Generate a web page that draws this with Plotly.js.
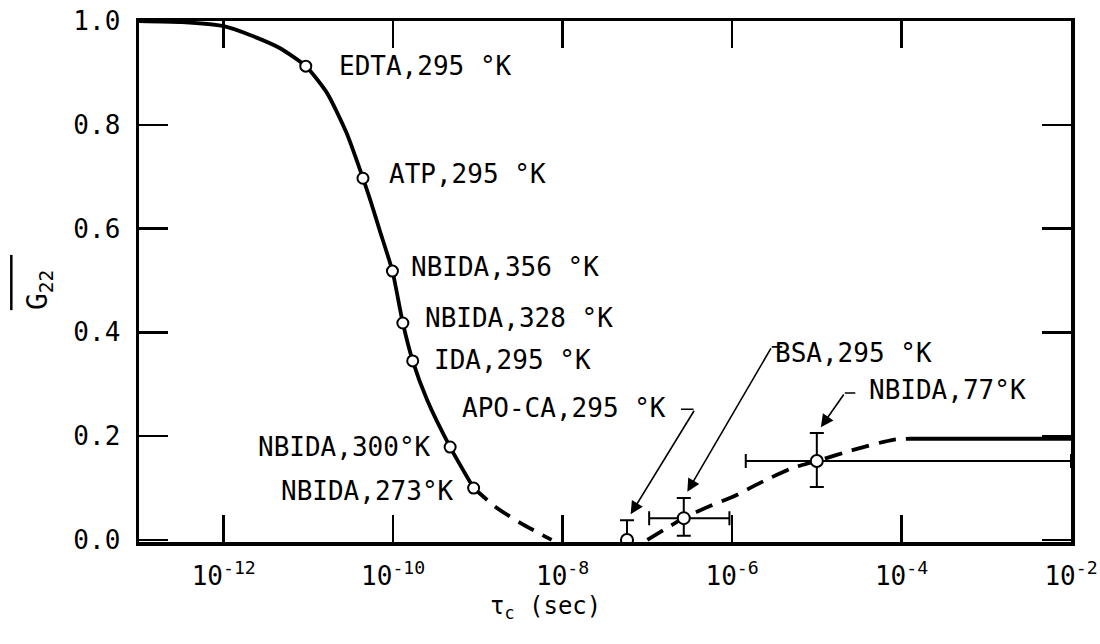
<!DOCTYPE html>
<html>
<head>
<meta charset="utf-8">
<script src="https://cdn.plot.ly/plotly-3.0.1.min.js"></script>
<style>html,body{margin:0;padding:0;background:#fff;}#plot{width:1100px;height:644px;}</style>
</head>
<body>
<div id="plot"></div>
<script>
// ---- data ----
// solid theory curve (tau_c in seconds, G22)
const curveSolidX = [1e-13, 3.2e-13, 1.0e-12, 2.04e-12, 4.57e-12, 9.3e-12, 1.66e-11, 2.82e-11, 4.4e-11, 5.37e-11, 6.92e-11, 9.8e-11, 1.3e-10, 1.7e-10, 2.51e-10, 4.7e-10, 8.9e-10];
const curveSolidY = [1.0, 0.998, 0.990, 0.973, 0.948, 0.913, 0.861, 0.784, 0.697, 0.655, 0.597, 0.518, 0.418, 0.345, 0.270, 0.179, 0.100];
// dashed extrapolation down to zero
const curveFallX = [8.9e-10, 1.66e-9, 3.16e-9, 7.4e-9];
const curveFallY = [0.100, 0.062, 0.033, 0.0];
// dashed rising branch
const curveRiseX = [1.0e-7, 2.69e-7, 5.75e-7, 1.02e-6, 2.14e-6, 5.25e-6, 1.0e-5, 2.63e-5, 7.94e-5, 1.26e-4];
const curveRiseY = [0.0, 0.042, 0.067, 0.083, 0.110, 0.139, 0.152, 0.173, 0.193, 0.195];
// solid plateau
const plateauX = [1.26e-4, 1.0e-2];
const plateauY = [0.195, 0.195];

// measured points on the solid curve
const ptLabels = ["EDTA,295 °K", "ATP,295 °K", "NBIDA,356 °K", "NBIDA,328 °K", "IDA,295 °K", "NBIDA,300°K", "NBIDA,273°K"];
const ptX = [9.3e-12, 4.4e-11, 9.8e-11, 1.3e-10, 1.7e-10, 4.7e-10, 8.9e-10];
const ptY = [0.913, 0.697, 0.518, 0.418, 0.345, 0.179, 0.100];

// points with error bars
const errLabels = ["APO-CA,295 °K", "BSA,295 °K", "NBIDA,77°K"];
const errX = [5.75e-8, 2.69e-7, 1.0e-5];
const errY = [0.0, 0.042, 0.152];
const errYPlus = [0.038, 0.039, 0.054];
const errYMinus = [0.0, 0.034, 0.050];
const errXLow = [null, 1.05e-7, 1.45e-6];
const errXHigh = [null, 9.3e-7, 1.0e-2];

const xTickVals = [1e-12, 1e-10, 1e-8, 1e-6, 1e-4, 1e-2];
const xTickText = ["10<sup>-12</sup>", "10<sup>-10</sup>", "10<sup>-8</sup>", "10<sup>-6</sup>", "10<sup>-4</sup>", "10<sup>-2</sup>"];
const yTickVals = [0, 0.2, 0.4, 0.6, 0.8, 1.0];
const yTickText = ["0.0", "0.2", "0.4", "0.6", "0.8", "1.0"];

// ---- drawing ----
const FONT = "DejaVu Sans Mono";
const ink = "#000";

const traces = [
  {x: curveSolidX, y: curveSolidY, mode: "lines", line: {color: ink, width: 3.8, shape: "spline", smoothing: 0.6}, hoverinfo: "skip"},
  {x: curveFallX, y: curveFallY, mode: "lines", line: {color: ink, width: 3.8, shape: "spline", smoothing: 0.6, dash: "18px,10px"}, hoverinfo: "skip"},
  {x: curveRiseX, y: curveRiseY, mode: "lines", line: {color: ink, width: 3.8, shape: "spline", smoothing: 0.7, dash: "18px,10px"}, hoverinfo: "skip"},
  {x: plateauX, y: plateauY, mode: "lines", line: {color: ink, width: 3.8}, hoverinfo: "skip"},
  {x: ptX, y: ptY, mode: "markers", marker: {symbol: "circle", size: 11, color: "#fff", line: {color: ink, width: 2}}},
  {x: errX, y: errY, mode: "markers",
   marker: {symbol: "circle", size: 12, color: "#fff", line: {color: ink, width: 2}},
   error_y: {type: "data", symmetric: false, array: errYPlus, arrayminus: errYMinus, color: ink, thickness: 2, width: 7},
   error_x: {type: "data", symmetric: false,
             array: errX.map((v, i) => errXHigh[i] == null ? 0 : errXHigh[i] - v),
             arrayminus: errX.map((v, i) => errXLow[i] == null ? 0 : v - errXLow[i]),
             color: ink, thickness: 2, width: 7}}
];

const lg = v => Math.log10(v);
const annotations = [];
// point labels: [xanchor, xshift, yshift]
const ptOff = [["left", 31, 0], ["left", 24, 4], ["left", 17, 4], ["left", 20, 5], ["left", 19, 1], ["right", -17, 0], ["right", -18, -3]];
ptLabels.forEach((t, i) => {
  annotations.push({x: lg(ptX[i]), y: ptY[i], xref: "x", yref: "y", text: t, showarrow: false,
    xanchor: ptOff[i][0], yanchor: "middle", xshift: ptOff[i][1], yshift: ptOff[i][2],
    font: {family: FONT, size: 26, color: ink}});
});
// error-point labels and arrows
const errTextOff = [["right", 41, 132], ["left", 89, 165], ["left", 50, 71]];
const arrowTail = [[68, -111], [88, -151], [28, -40]];
const stub = [[54, 111, 14, 0], [88, 151, 12, 0], [28, 40, 12, 0]]; // xshift, yshift, ax, ay
errLabels.forEach((t, i) => {
  annotations.push({x: lg(errX[i]), y: errY[i], xref: "x", yref: "y", text: t, showarrow: false,
    xanchor: errTextOff[i][0], yanchor: "middle", xshift: errTextOff[i][1], yshift: errTextOff[i][2],
    font: {family: FONT, size: 26, color: ink}});
  annotations.push({x: lg(errX[i]), y: errY[i] + errYPlus[i], xref: "x", yref: "y", text: "",
    showarrow: true, arrowhead: 2, arrowsize: 1.6, arrowwidth: 1.6, arrowcolor: ink, standoff: 7,
    axref: "pixel", ayref: "pixel", ax: arrowTail[i][0], ay: arrowTail[i][1]});
  annotations.push({x: lg(errX[i]), y: errY[i] + errYPlus[i], xref: "x", yref: "y", text: "",
    xshift: stub[i][0], yshift: stub[i][1],
    showarrow: true, arrowhead: 0, arrowwidth: 1.6, arrowcolor: ink, standoff: 0,
    axref: "pixel", ayref: "pixel", ax: stub[i][2], ay: stub[i][3]});
});
// axis titles
annotations.push({xref: "paper", yref: "paper", x: 0.436, y: -0.125, text: "τ<sub>c</sub> (sec)", showarrow: false,
  xanchor: "center", yanchor: "middle", font: {family: FONT, size: 24, color: ink}});
annotations.push({xref: "paper", yref: "paper", x: -0.106, y: 0.484, text: "G<sub>22</sub>", textangle: -90, showarrow: false,
  xanchor: "center", yanchor: "middle", font: {family: FONT, size: 28, color: ink}});

const layout = {
  width: 1100, height: 644,
  margin: {l: 139, r: 29, t: 21, b: 102},
  paper_bgcolor: "#fff", plot_bgcolor: "#fff",
  showlegend: false,
  xaxis: {type: "log", range: [-13, -2], tickvals: xTickVals, ticktext: xTickText,
    ticks: "inside", ticklen: 27, tickwidth: 2.5, tickcolor: ink,
    showline: true, linewidth: 3.5, linecolor: ink, mirror: "ticks",
    showgrid: false, zeroline: false, ticklabelstandoff: 8,
    tickfont: {family: FONT, size: 26, color: ink}},
  yaxis: {range: [-0.004, 1.0], tickvals: yTickVals, ticktext: yTickText,
    ticks: "inside", ticklen: 29, tickwidth: 2.5, tickcolor: ink,
    showline: true, linewidth: 3.5, linecolor: ink, mirror: "ticks",
    showgrid: false, zeroline: false, ticklabelstandoff: 10,
    tickfont: {family: FONT, size: 26, color: ink}},
  shapes: [
    {type: "line", xref: "paper", yref: "paper", x0: -0.137, x1: -0.137, y0: 0.445, y1: 0.551, line: {color: ink, width: 2.5}}
  ],
  annotations: annotations
};

Plotly.newPlot("plot", traces, layout, {displayModeBar: false, staticPlot: true});
</script>
</body>
</html>
